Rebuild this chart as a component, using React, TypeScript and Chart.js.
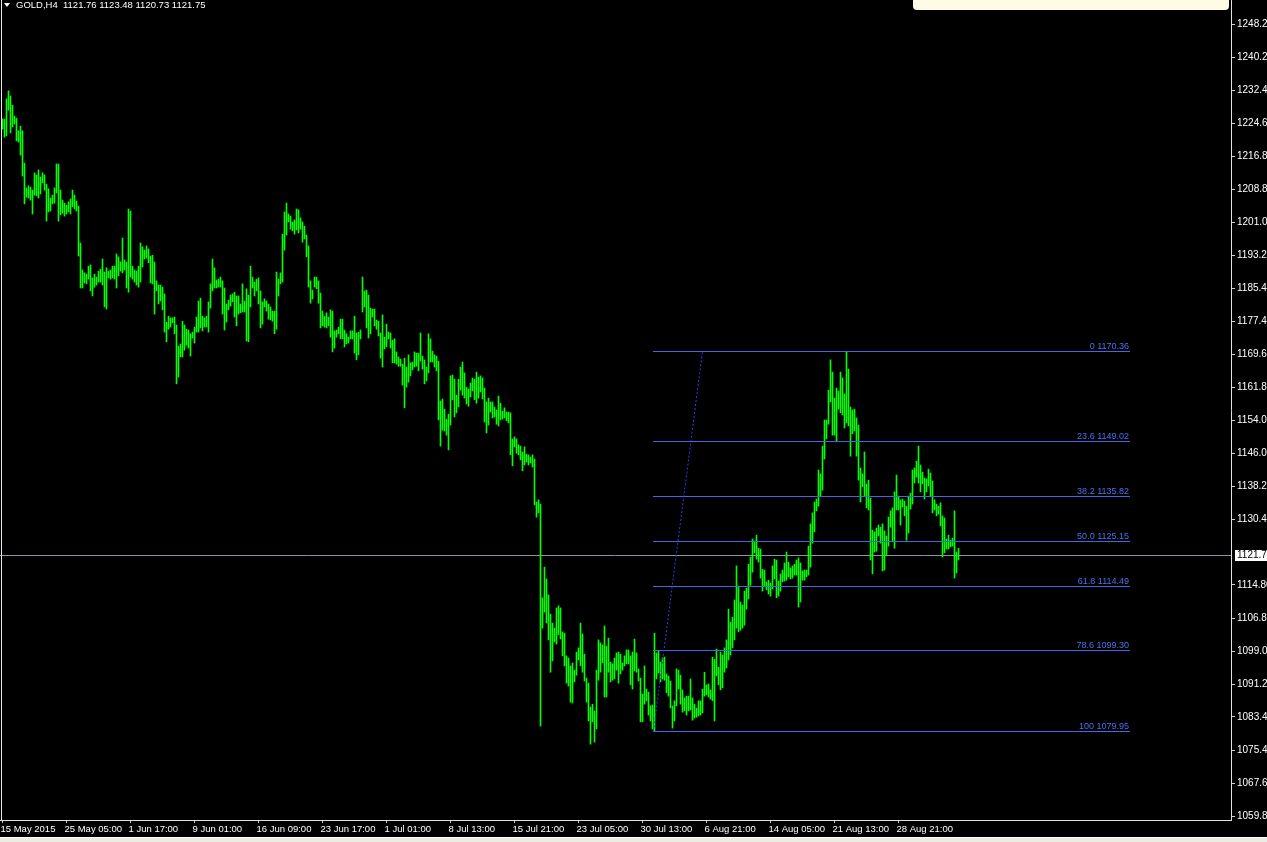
import React, { useEffect, useRef } from 'react';
import { Chart, registerables } from 'chart.js';

Chart.register(...registerables);

// ---- DATA (GOLD, H4 bars: high / low per bar, bar index = time order) ----
const highs = [
  1225.6,1225.6,1230.4,1232.3,1231.1,1228.9,1226.3,1225.8,1222.8,1223.9,
  1222.8,1215.1,1209.2,1209.7,1209.4,1208.7,1212.8,1212.3,1213.5,1211.8,
  1212.8,1212.3,1210.1,1209.0,1206.8,1207.5,1209.2,1214.9,1214.9,1208.7,
  1206.3,1205.6,1205.1,1205.9,1206.6,1208.7,1207.5,1206.1,1204.9,1196.1,
  1189.7,1189.0,1188.7,1190.6,1190.9,1187.8,1188.7,1188.0,1189.4,1189.9,
  1192.3,1189.2,1190.2,1189.4,1189.7,1190.6,1190.6,1193.5,1192.8,1191.6,
  1197.3,1192.1,1191.6,1204.2,1203.7,1190.6,1189.7,1189.4,1190.6,1196.1,
  1195.2,1194.4,1195.4,1194.7,1193.0,1193.2,1191.6,1187.1,1186.1,1186.1,
  1185.6,1184.0,1177.3,1178.7,1178.3,1178.3,1178.5,1176.6,1171.6,1172.1,
  1177.5,1176.6,1175.6,1175.4,1174.5,1174.9,1176.1,1178.5,1182.3,1183.0,
  1178.7,1178.3,1178.7,1182.1,1186.4,1192.3,1190.2,1187.3,1187.5,1188.0,
  1187.1,1185.4,1181.6,1182.5,1183.7,1184.0,1184.4,1183.5,1183.5,1181.6,
  1186.4,1182.3,1185.2,1183.7,1190.6,1188.0,1186.8,1187.5,1187.8,1184.7,
  1182.1,1182.8,1182.3,1181.6,1180.9,1179.9,1179.9,1189.2,1187.5,1189.0,
  1198.2,1203.5,1205.6,1203.0,1202.5,1201.1,1201.6,1204.2,1204.0,1202.1,
  1201.1,1200.1,1198.0,1195.4,1187.1,1184.9,1188.0,1188.0,1187.1,1184.2,
  1179.9,1178.7,1179.5,1178.5,1180.2,1179.9,1175.2,1175.4,1176.1,1178.0,
  1178.0,1175.4,1174.5,1173.7,1175.2,1175.2,1178.7,1174.7,1174.9,1175.4,
  1188.0,1184.7,1184.9,1183.7,1180.6,1180.4,1180.4,1177.8,1177.5,1174.7,
  1179.0,1173.7,1176.8,1174.9,1174.7,1173.0,1173.3,1170.2,1169.0,1168.5,
  1167.3,1168.7,1166.6,1169.5,1167.6,1167.8,1170.2,1169.9,1169.9,1174.7,
  1169.2,1168.3,1166.6,1174.5,1173.3,1170.4,1169.5,1169.2,1168.0,1158.5,
  1159.0,1156.6,1154.2,1155.4,1164.5,1164.7,1163.7,1159.9,1163.7,1166.6,
  1167.8,1165.2,1161.8,1161.4,1162.8,1164.0,1163.7,1165.4,1164.2,1164.5,
  1164.0,1161.6,1158.3,1159.2,1158.3,1158.3,1157.1,1156.4,1159.7,1158.0,
  1156.1,1156.9,1155.9,1155.9,1155.7,1149.5,1150.0,1149.5,1148.1,1147.8,
  1146.4,1147.6,1145.9,1145.7,1145.2,1145.7,1144.7,1134.5,1135.0,1134.0,
  1111.7,1119.0,1116.2,1112.4,1107.8,1105.7,1104.5,1109.3,1109.8,1109.3,
  1103.6,1103.3,1097.9,1097.4,1095.5,1096.2,1094.5,1098.8,1099.8,1105.7,
  1103.1,1098.3,1092.6,1091.4,1085.7,1086.4,1084.8,1094.5,1101.7,1101.0,
  1100.5,1105.0,1100.2,1102.1,1096.4,1096.0,1097.4,1098.6,1098.8,1098.3,
  1096.2,1097.9,1099.3,1099.3,1097.9,1098.8,1101.9,1098.6,1094.8,1092.6,
  1088.8,1095.5,1090.0,1089.3,1086.0,1086.2,1103.3,1098.6,1099.0,1096.4,
  1097.4,1097.6,1093.6,1093.1,1091.9,1086.0,1087.2,1094.8,1094.5,1093.3,
  1089.8,1087.9,1088.3,1088.3,1092.4,1087.9,1086.4,1085.5,1087.2,1087.2,
  1090.0,1094.0,1091.0,1091.2,1089.8,1097.6,1097.1,1099.5,1095.2,1098.8,
  1098.1,1099.8,1101.7,1109.0,1105.9,1107.1,1111.2,1119.3,1114.5,1110.7,
  1110.0,1113.3,1114.0,1119.7,1121.4,1125.7,1125.2,1126.6,1123.5,1123.3,
  1118.5,1118.3,1115.5,1115.9,1115.2,1119.3,1120.9,1120.7,1115.7,1117.4,
  1118.3,1120.0,1122.6,1120.2,1118.8,1119.3,1119.7,1120.7,1121.2,1120.0,
  1118.1,1118.3,1118.3,1124.0,1129.3,1131.9,1134.5,1135.2,1142.1,1141.2,
  1147.8,1154.0,1154.0,1161.1,1168.3,1165.4,1159.2,1161.6,1160.9,1165.4,
  1164.0,1160.2,1170.36,1166.1,1157.1,1156.4,1156.6,1154.5,1152.8,1142.6,
  1141.2,1146.4,1138.8,1139.7,1135.4,1127.8,1127.4,1128.3,1129.0,1128.5,
  1129.3,1127.6,1126.4,1130.9,1132.4,1133.1,1136.9,1140.9,1135.9,1135.0,
  1135.2,1134.7,1133.5,1135.9,1136.6,1142.1,1142.6,1144.2,1147.8,1143.3,
  1141.6,1140.2,1140.0,1142.3,1141.4,1139.5,1135.0,1134.0,1133.5,1134.3,
  1131.2,1130.7,1125.7,1126.6,1125.4,1125.9,1132.4,1122.6,1123.48,
];

const lows = [
  1223.2,1221.3,1221.6,1227.7,1222.3,1223.7,1224.4,1220.4,1220.1,1217.0,
  1212.0,1205.4,1207.0,1206.8,1206.3,1203.0,1207.5,1207.3,1206.8,1207.8,
  1210.4,1208.7,1201.3,1203.5,1203.7,1205.4,1205.6,1208.0,1201.3,1202.8,
  1203.2,1202.5,1203.0,1203.5,1203.0,1204.7,1204.2,1203.7,1193.0,1185.4,
  1185.4,1186.6,1186.4,1187.5,1184.7,1183.5,1185.6,1186.1,1186.8,1186.8,
  1186.1,1180.9,1180.4,1187.8,1187.5,1187.8,1187.5,1185.4,1188.3,1189.4,
  1189.0,1189.7,1185.4,1184.4,1188.0,1187.5,1186.8,1186.1,1185.6,1186.8,
  1190.4,1192.3,1192.5,1191.4,1186.6,1186.4,1179.2,1184.7,1181.6,1182.3,
  1180.2,1174.9,1172.6,1175.6,1176.1,1177.1,1174.5,1162.6,1164.2,1169.0,
  1169.0,1170.6,1171.8,1171.1,1169.2,1173.5,1172.3,1174.9,1174.9,1175.9,
  1175.2,1176.1,1176.1,1174.9,1180.6,1184.7,1185.4,1185.4,1185.6,1185.6,
  1179.2,1175.4,1177.3,1180.2,1181.1,1182.1,1178.5,1176.4,1179.2,1179.5,
  1179.7,1179.7,1172.8,1172.6,1180.9,1185.4,1183.5,1184.7,1181.6,1175.9,
  1176.8,1180.9,1179.9,1178.0,1177.8,1177.5,1174.5,1175.6,1183.5,1186.4,
  1186.8,1194.4,1198.0,1201.1,1199.4,1199.0,1198.2,1199.2,1198.5,1199.4,
  1196.3,1197.1,1192.8,1185.6,1181.8,1182.8,1185.6,1185.2,1181.8,1175.9,
  1176.4,1176.1,1175.9,1176.4,1173.7,1170.2,1171.1,1173.7,1174.5,1173.3,
  1173.3,1171.4,1172.1,1172.3,1173.3,1173.3,1169.9,1168.3,1169.5,1173.3,
  1179.7,1180.9,1175.9,1173.5,1174.5,1178.5,1176.4,1175.6,1174.0,1168.7,
  1166.6,1170.9,1171.4,1173.3,1171.1,1167.6,1167.6,1167.3,1166.8,1166.8,
  1162.3,1156.9,1161.8,1163.0,1164.5,1165.9,1166.6,1166.8,1165.7,1168.0,
  1166.1,1162.6,1163.3,1165.2,1167.8,1167.8,1166.6,1165.7,1154.0,1147.8,
  1151.6,1151.4,1150.4,1146.9,1152.8,1158.8,1154.7,1155.7,1157.1,1161.1,
  1159.9,1159.2,1157.8,1157.3,1159.5,1160.9,1158.8,1158.0,1159.2,1160.7,
  1159.0,1153.5,1150.9,1152.8,1155.9,1154.5,1154.7,1153.0,1152.6,1154.0,
  1154.2,1154.5,1153.8,1153.3,1145.7,1143.1,1147.6,1146.1,1145.7,1144.5,
  1141.9,1143.3,1144.0,1143.3,1143.8,1142.8,1133.8,1130.9,1131.9,1081.2,
  1104.5,1108.3,1105.7,1101.7,1094.0,1096.7,1101.2,1100.7,1102.9,1101.9,
  1097.9,1095.5,1091.4,1090.7,1086.9,1086.7,1091.7,1093.3,1096.9,1095.5,
  1094.0,1091.9,1086.9,1082.4,1076.9,1082.2,1077.4,1080.5,1092.1,1094.0,
  1096.2,1088.1,1088.1,1094.0,1091.7,1092.1,1092.4,1094.5,1091.4,1093.6,
  1094.5,1095.5,1096.0,1096.0,1091.0,1090.0,1094.3,1094.0,1091.9,1082.2,
  1082.2,1086.4,1087.2,1083.8,1082.4,1080.5,1079.95,1092.4,1093.8,1091.7,
  1092.4,1092.1,1089.1,1088.3,1085.5,1080.7,1082.4,1086.0,1090.0,1086.4,
  1084.5,1084.8,1083.8,1084.8,1085.0,1082.6,1083.1,1083.3,1083.6,1083.8,
  1084.3,1088.3,1088.6,1088.1,1087.6,1087.2,1082.4,1093.1,1091.0,1089.8,
  1090.3,1094.0,1095.0,1096.9,1098.1,1099.8,1101.7,1104.5,1103.6,1104.0,
  1104.5,1105.2,1109.0,1111.4,1114.7,1117.8,1122.4,1120.9,1120.2,1116.4,
  1113.3,1114.3,1113.6,1112.6,1112.1,1113.8,1116.2,1111.7,1112.1,1113.3,
  1115.5,1115.7,1115.9,1116.7,1116.2,1116.4,1117.1,1117.1,1109.5,1110.7,
  1115.9,1115.9,1116.7,1117.1,1119.0,1124.7,1127.4,1132.4,1133.5,1135.9,
  1137.3,1144.7,1149.5,1153.0,1158.3,1150.4,1150.4,1149.0,1156.6,1155.7,
  1155.2,1152.1,1153.3,1152.6,1145.4,1150.7,1151.4,1145.4,1139.7,1134.5,
  1138.1,1135.9,1133.1,1132.6,1120.7,1117.4,1122.6,1122.8,1126.4,1124.7,
  1118.1,1118.3,1121.9,1124.0,1128.5,1125.2,1123.5,1132.6,1132.6,1129.0,
  1133.3,1131.2,1125.4,1127.1,1132.8,1134.0,1139.0,1140.4,1139.0,1136.9,
  1138.8,1135.2,1136.9,1138.3,1135.9,1131.9,1132.6,1131.2,1131.6,1128.8,
  1121.4,1122.4,1123.3,1123.3,1123.8,1124.0,1116.4,1117.6,1120.73,
];

const dateLabels = [
  '15 May 2015', '25 May 05:00', '1 Jun 17:00', '9 Jun 01:00', '16 Jun 09:00',
  '23 Jun 17:00', '1 Jul 01:00', '8 Jul 13:00', '15 Jul 21:00', '23 Jul 05:00',
  '30 Jul 13:00', '6 Aug 21:00', '14 Aug 05:00', '21 Aug 13:00', '28 Aug 21:00',
];
const dateBarIndex = [0, 32, 64, 96, 128, 160, 192, 224, 256, 288, 320, 352, 384, 416, 448];

const priceTicks = [
  1248.2, 1240.2, 1232.4, 1224.6, 1216.8, 1208.8, 1201.0, 1193.2, 1185.4, 1177.4,
  1169.6, 1161.8, 1154.0, 1146.0, 1138.2, 1130.4, 1114.8, 1106.8, 1099.0, 1091.2,
  1083.4, 1075.4, 1067.6, 1059.8,
];

const fibLevels = ['0', '23.6', '38.2', '50.0', '61.8', '78.6', '100'];
const fibPrices = [1170.36, 1149.02, 1135.82, 1125.15, 1114.49, 1099.3, 1079.95];
const fibStartBar = 325;
const fibEndBar = 563.75;
const fibAnchorHighBar = 350;

const bidPrice = 1121.75;
const titleText = 'GOLD,H4  1121.76 1123.48 1120.73 1121.75';

const FONT = '"Liberation Sans", Arial, sans-serif';

const overlayPlugin = {
  id: 'mtOverlay',
  beforeDraw(chart: any) {
    const { ctx, width, height } = chart;
    ctx.save();
    ctx.fillStyle = '#000000';
    ctx.fillRect(0, 0, width, height);
    ctx.restore();
  },
  beforeDatasetsDraw(chart: any) {
    const { ctx, chartArea, scales } = chart;
    const y = scales.y;
    const py = Math.round(y.getPixelForValue(bidPrice)) - 0.5;
    ctx.save();
    ctx.strokeStyle = '#8a96a4';
    ctx.lineWidth = 1;
    ctx.beginPath();
    ctx.moveTo(chartArea.left, py);
    ctx.lineTo(chartArea.right, py);
    ctx.stroke();
    ctx.restore();
  },
  afterDatasetsDraw(chart: any) {
    const { ctx, chartArea, scales, width, height } = chart;
    const x = scales.x;
    const y = scales.y;
    ctx.save();
    // Fibonacci levels
    const x0 = Math.round(x.getPixelForValue(fibStartBar));
    const x1 = Math.round(x.getPixelForValue(fibEndBar));
    ctx.font = '9px ' + FONT;
    ctx.textAlign = 'right';
    ctx.textBaseline = 'alphabetic';
    fibPrices.forEach((p, i) => {
      const py = Math.round(y.getPixelForValue(p)) + 0.5;
      ctx.strokeStyle = '#4169e1';
      ctx.lineWidth = 1;
      ctx.beginPath();
      ctx.moveTo(x0, py);
      ctx.lineTo(x1, py);
      ctx.stroke();
      ctx.fillStyle = '#4a72f0';
      ctx.fillText(fibLevels[i] + ' ' + p.toFixed(2), x1 - 1, py - 3);
    });
    // dotted trend line of the fibo
    ctx.strokeStyle = '#2a3ff0';
    ctx.setLineDash([2, 2]);
    ctx.beginPath();
    ctx.moveTo(x0 + 0.5, y.getPixelForValue(fibPrices[6]));
    ctx.lineTo(x.getPixelForValue(fibAnchorHighBar), y.getPixelForValue(fibPrices[0]));
    ctx.stroke();
    ctx.setLineDash([]);

    // left frame line
    ctx.strokeStyle = '#e8e8e8';
    ctx.beginPath();
    ctx.moveTo(1.5, 0);
    ctx.lineTo(1.5, chartArea.bottom);
    ctx.stroke();

    // title
    ctx.fillStyle = '#ffffff';
    ctx.beginPath();
    ctx.moveTo(4, 3);
    ctx.lineTo(10, 3);
    ctx.lineTo(7, 7);
    ctx.closePath();
    ctx.fill();
    ctx.font = '9.5px ' + FONT;
    ctx.textAlign = 'left';
    ctx.textBaseline = 'middle';
    ctx.fillText(titleText, 16, 5.5);

    // top-right panel
    ctx.fillStyle = '#fffbe4';
    ctx.beginPath();
    const bx0 = 913, bx1 = 1229, by1 = 10, r = 4;
    ctx.moveTo(bx0, 0);
    ctx.lineTo(bx1, 0);
    ctx.lineTo(bx1, by1 - r);
    ctx.quadraticCurveTo(bx1, by1, bx1 - r, by1);
    ctx.lineTo(bx0 + r, by1);
    ctx.quadraticCurveTo(bx0, by1, bx0, by1 - r);
    ctx.closePath();
    ctx.fill();

    // current price label on axis
    const bp = Math.round(y.getPixelForValue(bidPrice)) - 1;
    ctx.fillStyle = '#ffffff';
    ctx.fillRect(chartArea.right + 4, bp - 5, width - chartArea.right - 4, 11);
    ctx.fillStyle = '#000000';
    ctx.font = '10px ' + FONT;
    ctx.textAlign = 'left';
    ctx.textBaseline = 'middle';
    ctx.fillText(bidPrice.toFixed(2), chartArea.right + 6, bp + 0.5);

    // bottom window strip
    ctx.fillStyle = '#ecebe4';
    ctx.fillRect(0, height - 4, width, 4);
    ctx.fillStyle = '#ffffff';
    ctx.fillRect(0, height - 5, width, 1);
    ctx.restore();
  },
};

export default function App() {
  const canvasRef = useRef<HTMLCanvasElement | null>(null);

  useEffect(() => {
    document.body.style.margin = '0';
    document.body.style.background = '#000';
    document.body.style.overflow = 'hidden';
    const canvas = canvasRef.current;
    if (!canvas) return;

    const barData = highs.map((h, i) => ({ x: i, y: [lows[i], h] }));

    const chart = new Chart(canvas, {
      type: 'bar',
      data: {
        datasets: [
          {
            data: barData as any,
            backgroundColor: '#00ff00',
            borderWidth: 0,
            barThickness: 1,
            borderSkipped: false,
          } as any,
        ],
      },
      options: {
        responsive: false,
        animation: false,
        devicePixelRatio: 1,
        events: [],
        layout: { padding: 0, autoPadding: false } as any,
        plugins: {
          legend: { display: false },
          tooltip: { enabled: false },
          title: { display: false },
        },
        scales: {
          x: {
            type: 'linear',
            min: -1.25,
            max: 614.25,
            offset: false,
            grid: {
              display: true,
              offset: false,
              drawOnChartArea: false,
              drawTicks: true,
              tickLength: 3,
              color: '#d0d0d0',
            },
            border: { display: true, color: '#e0e0e0', width: 1 },
            afterBuildTicks: (scale: any) => {
              scale.ticks = dateBarIndex.map((v) => ({ value: v }));
            },
            afterFit: (scale: any) => {
              scale.height = 22;
              scale.paddingLeft = 0;
              scale.paddingRight = 0;
            },
            ticks: {
              autoSkip: false,
              maxRotation: 0,
              minRotation: 0,
              align: 'start',
              labelOffset: -2,
              padding: 1,
              color: '#ffffff',
              font: { family: FONT, size: 9.5 },
              callback: (_v: any, idx: number) => dateLabels[idx],
            },
          },
          y: {
            type: 'linear',
            position: 'right',
            min: 1058.85,
            max: 1253.91,
            beginAtZero: false,
            grid: {
              display: true,
              drawOnChartArea: false,
              drawTicks: true,
              tickLength: 4,
              color: '#d0d0d0',
            },
            border: { display: true, color: '#e0e0e0', width: 1 },
            afterBuildTicks: (scale: any) => {
              scale.ticks = priceTicks.map((v) => ({ value: v }));
            },
            afterFit: (scale: any) => {
              scale.width = 36;
              scale.paddingTop = 0;
              scale.paddingBottom = 0;
            },
            ticks: {
              autoSkip: false,
              padding: 2,
              color: '#ffffff',
              font: { family: FONT, size: 10 },
              callback: (v: any) => Number(v).toFixed(2),
            },
          },
        },
      } as any,
      plugins: [overlayPlugin],
    });

    return () => chart.destroy();
  }, []);

  return (
    <canvas
      ref={canvasRef}
      width={1267}
      height={842}
      style={{ display: 'block', width: '1267px', height: '842px' }}
    />
  );
}
